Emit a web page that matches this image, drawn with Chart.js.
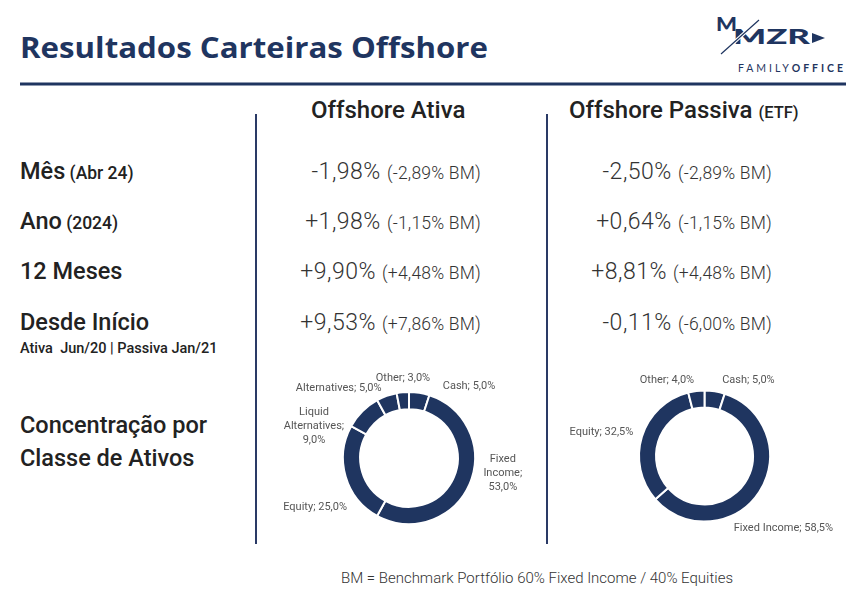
<!DOCTYPE html>
<html>
<head>
<meta charset="utf-8">
<title>Resultados Carteiras Offshore</title>
<script src="https://cdn.jsdelivr.net/npm/chart.js@4.4.1/dist/chart.umd.min.js"></script>
<style>
  html, body { margin: 0; padding: 0; background: #fff; }
  body { width: 863px; height: 600px; position: relative; overflow: hidden; font-family: Roboto, sans-serif; }
  #page { position: absolute; left: 0; top: 0; }
  .box { position: absolute; }
  #boxAtiva { left: 270px; top: 360px; width: 270px; height: 185px; }
  #boxPassiva { left: 560px; top: 360px; width: 290px; height: 185px; }
</style>
</head>
<body>
<svg id="page" width="863" height="600" xmlns="http://www.w3.org/2000/svg">
  <!-- header -->
  <text x="20" y="58" font-family="'Open Sans'" font-weight="700" font-size="28" fill="#1f3560" textLength="468" lengthAdjust="spacingAndGlyphs">Resultados Carteiras Offshore</text>
  <line x1="20" y1="84" x2="846" y2="84" stroke="#1f3560" stroke-width="3"/>

  <!-- logo -->
  <g fill="#1f3560" font-family="Lato" font-weight="900">
    <text x="716" y="31" font-size="18" textLength="21" lengthAdjust="spacingAndGlyphs">M</text>
    <text x="733" y="44" font-size="21.5" textLength="77" lengthAdjust="spacingAndGlyphs">MZR</text>
    <line x1="721" y1="54" x2="759" y2="20" stroke="#fff" stroke-width="3.5"/>
    <line x1="721" y1="54" x2="759" y2="20" stroke="#1f3560" stroke-width="1.2"/>
    <polygon points="812,33 825,38 812,43"/>
    <text x="738" y="72" font-size="10.5" textLength="105" lengthAdjust="spacing"><tspan font-weight="400">FAMILY</tspan><tspan font-weight="700">OFFICE</tspan></text>
  </g>

  <!-- separators -->
  <line x1="256" y1="114" x2="256" y2="544" stroke="#2a3a66" stroke-width="2"/>
  <line x1="547" y1="114" x2="547" y2="544" stroke="#2a3a66" stroke-width="2"/>

  <g id="tableText" fill="#222" font-family="Roboto"></g>

  <text x="537" y="583" text-anchor="middle" font-family="Roboto" font-weight="300" font-size="15" fill="#333" textLength="392" lengthAdjust="spacing">BM = Benchmark Portfólio 60% Fixed Income / 40% Equities</text>
</svg>

<div class="box" id="boxAtiva"><canvas id="chartAtiva"></canvas></div>
<div class="box" id="boxPassiva"><canvas id="chartPassiva"></canvas></div>

<script>
// ---- data ----
const columnTitles = ['Offshore Ativa', 'Offshore Passiva'];
const rowLabels = ['Mês', 'Ano', '12 Meses', 'Desde Início'];
const rowSubLabels = ['(Abr 24)', '(2024)', '', ''];
const ativaReturns = ['-1,98%', '+1,98%', '+9,90%', '+9,53%'];
const ativaBM = ['(-2,89% BM)', '(-1,15% BM)', '(+4,48% BM)', '(+7,86% BM)'];
const passivaReturns = ['-2,50%', '+0,64%', '+8,81%', '-0,11%'];
const passivaBM = ['(-2,89% BM)', '(-1,15% BM)', '(+4,48% BM)', '(-6,00% BM)'];

const ativaClasses = ['Cash', 'Fixed Income', 'Equity', 'Liquid Alternatives', 'Alternatives', 'Other'];
const ativaWeights = [5.0, 53.0, 25.0, 9.0, 5.0, 3.0];
const passivaClasses = ['Cash', 'Fixed Income', 'Equity', 'Other'];
const passivaWeights = [5.0, 58.5, 32.5, 4.0];

const NAVY = '#1f3560';

// ---- static table text ----
const NS = 'http://www.w3.org/2000/svg';
const g = document.getElementById('tableText');
function addText(x, y, parts, anchor) {
  const t = document.createElementNS(NS, 'text');
  t.setAttribute('x', x);
  t.setAttribute('y', y);
  t.setAttribute('style', 'white-space: pre');
  if (anchor) t.setAttribute('text-anchor', anchor);
  parts.forEach(p => {
    const s = document.createElementNS(NS, 'tspan');
    s.setAttribute('font-size', p.size);
    s.setAttribute('font-weight', p.weight);
    if (p.fill) s.setAttribute('fill', p.fill);
    if (p.ls) s.setAttribute('letter-spacing', p.ls);
    s.textContent = p.text;
    t.appendChild(s);
  });
  g.appendChild(t);
}

addText(311, 118, [{ text: columnTitles[0], size: 24, weight: 500 }]);
addText(569, 118, [{ text: columnTitles[1] + ' ', size: 24, weight: 500 }, { text: '(ETF)', size: 16.5, weight: 500 }]);

const rowBase = [179, 229, 279, 330];
rowLabels.forEach((lab, i) => {
  const parts = [{ text: lab, size: 23.5, weight: 500 }];
  if (rowSubLabels[i]) parts.push({ text: ' ' + rowSubLabels[i], size: 17.5, weight: 500 });
  addText(20, rowBase[i], parts);
  addText(481, rowBase[i], [{ text: ativaReturns[i] + ' ', size: 23, weight: 300, fill: '#333', ls: 0.5 }, { text: ativaBM[i], size: 17.5, weight: 300, fill: '#333', ls: 0.2 }], 'end');
  addText(772, rowBase[i], [{ text: passivaReturns[i] + ' ', size: 23, weight: 300, fill: '#333', ls: 0.5 }, { text: passivaBM[i], size: 17.5, weight: 300, fill: '#333', ls: 0.2 }], 'end');
});
addText(20, 353, [{ text: 'Ativa  Jun/20 | Passiva Jan/21', size: 14.5, weight: 500 }]);
addText(20, 433, [{ text: 'Concentração por', size: 23.5, weight: 500 }]);
addText(20, 466, [{ text: 'Classe de Ativos', size: 23.5, weight: 500 }]);

// ---- doughnut labels drawn next to each arc ----
const outsideLabels = {
  id: 'outsideLabels',
  afterDatasetsDraw(chart, args, opts) {
    const ctx = chart.ctx;
    const meta = chart.getDatasetMeta(0);
    const labels = chart.data.labels;
    const values = chart.data.datasets[0].data;
    ctx.save();
    ctx.font = '400 11px Roboto';
    ctx.fillStyle = '#555';
    ctx.textBaseline = 'middle';
    meta.data.forEach((arc, i) => {
      const p = arc.getProps(['x', 'y', 'startAngle', 'endAngle', 'outerRadius'], true);
      const mid = (p.startAngle + p.endAngle) / 2;
      const R = p.outerRadius + 9;
      const place = opts.place[i];
      const ax = p.x + Math.cos(mid) * R + place.dx;
      const ay = p.y + Math.sin(mid) * R + place.dy;
      const txt = labels[i] + '; ' + values[i].toFixed(1).replace('.', ',') + '%';
      const lines = place.wrap ? txt.split(' ') : [txt];
      const lh = 14;
      ctx.textAlign = place.align;
      lines.forEach((ln, k) => {
        ctx.fillText(ln, ax, ay + (k - (lines.length - 1) / 2) * lh);
      });
    });
    ctx.restore();
  }
};

function makeDoughnut(id, labels, values, padding, place) {
  return new Chart(document.getElementById(id), {
    type: 'doughnut',
    data: {
      labels: labels,
      datasets: [{
        data: values,
        backgroundColor: NAVY,
        borderColor: '#fff',
        borderWidth: 2
      }]
    },
    options: {
      responsive: true,
      maintainAspectRatio: false,
      animation: false,
      cutout: '74%',
      layout: { padding: padding },
      plugins: {
        legend: { display: false },
        tooltip: { enabled: false },
        outsideLabels: { place: place }
      }
    },
    plugins: [outsideLabels]
  });
}

makeDoughnut('chartAtiva', ativaClasses, ativaWeights,
  { left: 72, right: 64, top: 31, bottom: 20 },
  [
    { align: 'left', dx: 22, dy: 2 },
    { align: 'center', dx: 25, dy: -15, wrap: true },
    { align: 'right', dx: 10, dy: 28 },
    { align: 'center', dx: -42, dy: 21, wrap: true },
    { align: 'right', dx: -2, dy: 1 },
    { align: 'center', dx: 1, dy: -5 }
  ]);

makeDoughnut('chartPassiva', passivaClasses, passivaWeights,
  { left: 78, right: 79, top: 29, bottom: 22 },
  [
    { align: 'left', dx: 6, dy: -2 },
    { align: 'left', dx: -33, dy: 31 },
    { align: 'right', dx: 0, dy: -2 },
    { align: 'right', dx: -1, dy: -2 }
  ]);
</script>
</body>
</html>
